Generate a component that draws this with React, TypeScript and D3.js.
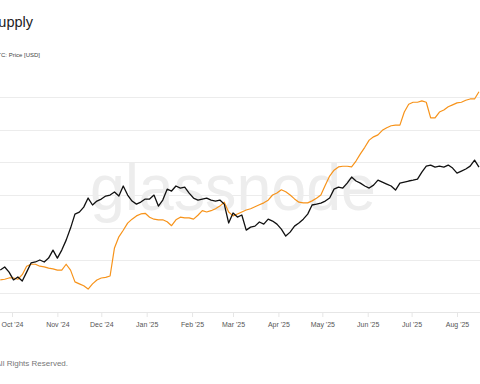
import * as d3 from 'd3';
import React, { useEffect, useRef } from 'react';

const W = 480;
const H = 384;

// one point every 3 days, starting 2024-09-23
const dates = d3.utcDay.range(new Date(Date.UTC(2024, 8, 23)), new Date(Date.UTC(2025, 7, 17)), 3);

// orange series (supply metric, %)
const supply = [
  62.0, 62.1, 62.3, 62.3, 62.1, 62.8, 64.1, 64.4, 64.4, 64.1,
  64.0, 63.8, 63.7, 63.5, 63.5, 64.4, 63.5, 61.7, 61.4, 61.1,
  60.6, 61.4, 62.0, 62.3, 62.4, 62.6, 66.9, 68.6, 69.6, 70.7,
  71.3, 71.8, 72.1, 72.2, 71.6, 71.3, 71.2, 71.2, 70.9, 70.3,
  71.2, 71.6, 71.5, 71.5, 71.3, 71.9, 72.6, 72.4, 72.6, 72.9,
  73.3, 73.9, 72.4, 71.8, 72.1, 72.4, 72.7, 72.9, 73.2, 73.5,
  73.8, 74.2, 75.0, 75.3, 75.8, 75.5, 75.0, 74.4, 73.9, 73.8,
  73.8, 74.1, 74.5, 75.0, 76.5, 77.9, 78.8, 79.3, 79.4, 79.4,
  79.3, 80.2, 81.3, 82.3, 83.4, 83.9, 84.2, 84.9, 85.3, 85.6,
  85.7, 85.7, 87.7, 88.9, 89.2, 89.2, 89.4, 89.2, 86.8, 86.8,
  87.7, 88.0, 88.5, 88.8, 89.1, 89.2, 89.5, 89.7, 89.7, 90.8,
];

// black series, BTC price in USD
const price = [
  63000, 64200, 62200, 59300, 60400, 58900, 62200, 65800, 66200, 67000,
  66200, 67800, 71200, 67800, 71200, 75700, 81500, 88800, 89900, 92700,
  98000, 93900, 96200, 97400, 99200, 99800, 101700, 99200, 105500, 99800,
  96200, 94400, 95600, 97400, 97400, 99800, 93300, 96800, 103500, 102300,
  105500, 104200, 104800, 101000, 98000, 96800, 97400, 98000, 96800, 96200,
  96800, 94400, 84100, 89400, 87200, 88300, 80500, 82000, 82500, 84600,
  83500, 86100, 85100, 83500, 81000, 77600, 79500, 82500, 84100, 86100,
  88800, 93900, 94400, 95000, 96200, 98000, 103500, 104800, 104200, 107400,
  111500, 108800, 107400, 105500, 104200, 106100, 109400, 108100, 106800, 105500,
  102900, 107400, 108100, 108800, 109400, 110100, 114900, 119200, 120000, 118500,
  119200, 118500, 120000, 117800, 114200, 115600, 117100, 119200, 123700, 118500,
];

const supplyTicks = [60, 65, 70, 75, 80, 85, 90];
const monthTicks = [
  '2024-10-01', '2024-11-01', '2024-12-01', '2025-01-01', '2025-02-01', '2025-03-01',
  '2025-04-01', '2025-05-01', '2025-06-01', '2025-07-01', '2025-08-01',
];
const monthLabels = [
  "Oct '24", "Nov '24", "Dec '24", "Jan '25", "Feb '25", "Mar '25",
  "Apr '25", "May '25", "Jun '25", "Jul '25", "Aug '25",
];

const FONT = '"Liberation Sans", Arial, Helvetica, sans-serif';

const Chart = () => {
  const svgRef = useRef(null);

  useEffect(() => {
    const svg = d3.select(svgRef.current);
    svg.selectAll('*').remove();

    const x = d3
      .scaleUtc()
      .domain([new Date('2024-10-01T00:00:00Z'), new Date('2025-08-01T00:00:00Z')])
      .range([12, 457]);
    const ySupply = d3.scaleLinear().domain([60, 90]).range([293, 97]);
    const yPrice = d3.scaleLog().domain([60000, 130000]).range([278, 152]);

    // title / subtitle (cropped on the left like the source)
    svg
      .append('text')
      .attr('x', 33)
      .attr('y', 27)
      .attr('text-anchor', 'end')
      .attr('font-family', FONT)
      .attr('font-size', 14.5)
      .attr('fill', '#222')
      .text('Bitcoin: Long-Term Holder Supply');
    svg
      .append('text')
      .attr('x', 40)
      .attr('y', 57)
      .attr('text-anchor', 'end')
      .attr('font-family', FONT)
      .attr('font-size', 6)
      .attr('fill', '#444')
      .text('BTC: Price [USD]');

    // grid
    svg
      .append('g')
      .selectAll('line')
      .data(supplyTicks)
      .join('line')
      .attr('x1', 0)
      .attr('x2', W)
      .attr('y1', (d) => Math.round(ySupply(d)) + 0.5)
      .attr('y2', (d) => Math.round(ySupply(d)) + 0.5)
      .attr('stroke', '#ececec')
      .attr('stroke-width', 1);

    // watermark
    svg
      .append('text')
      .attr('x', 90)
      .attr('y', 210)
      .attr('font-family', FONT)
      .attr('font-size', 64)
      .attr('textLength', 286)
      .attr('lengthAdjust', 'spacingAndGlyphs')
      .attr('fill', '#ededed')
      .text('glassnode');

    // x axis
    const xAxis = d3
      .axisBottom(x)
      .tickValues(monthTicks.map((d) => new Date(d + 'T00:00:00Z')))
      .tickFormat((d, i) => monthLabels[i])
      .tickSize(5)
      .tickSizeOuter(0);
    const gx = svg.append('g').attr('transform', 'translate(0,312)').call(xAxis);
    gx.select('.domain').remove();
    gx.insert('line', ':first-child')
      .attr('x1', 0)
      .attr('x2', W)
      .attr('y1', 0.5)
      .attr('y2', 0.5)
      .attr('stroke', '#e6e6e6');
    gx.selectAll('.tick line').attr('stroke', '#e6e6e6');
    gx.selectAll('.tick text')
      .attr('y', 10)
      .attr('font-family', FONT)
      .attr('font-size', 7)
      .attr('fill', '#555');

    const lineSupply = d3
      .line()
      .x((d, i) => x(dates[i]))
      .y((d) => ySupply(d));
    const linePrice = d3
      .line()
      .x((d, i) => x(dates[i]))
      .y((d) => yPrice(d));

    svg
      .append('path')
      .datum(supply)
      .attr('d', lineSupply)
      .attr('fill', 'none')
      .attr('stroke', '#f7931a')
      .attr('stroke-width', 1.2)
      .attr('stroke-linejoin', 'round');

    svg
      .append('path')
      .datum(price)
      .attr('d', linePrice)
      .attr('fill', 'none')
      .attr('stroke', '#111')
      .attr('stroke-width', 1.3)
      .attr('stroke-linejoin', 'round');

    // footer
    svg
      .append('text')
      .attr('x', 68)
      .attr('y', 366)
      .attr('text-anchor', 'end')
      .attr('font-family', FONT)
      .attr('font-size', 8)
      .attr('fill', '#777')
      .text('© 2025 Glassnode. All Rights Reserved.');
  }, []);

  return (
    <svg
      ref={svgRef}
      width={W}
      height={H}
      style={{ position: 'fixed', left: 0, top: 0, background: '#fff' }}
    />
  );
};

export default function App() {
  return <Chart />;
}
